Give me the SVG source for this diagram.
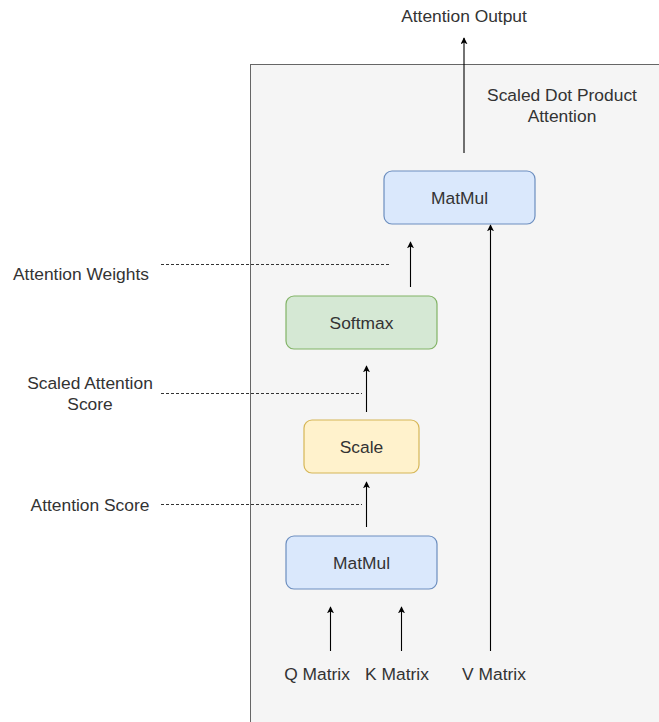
<svg xmlns="http://www.w3.org/2000/svg" width="659" height="722" viewBox="0 0 659 722">
<style>
text{font-family:"Liberation Sans",Arial,sans-serif;font-size:17.4px;fill:#333;text-anchor:middle}
.node rect{stroke-width:1.2}
.blue{fill:#dae8fc;stroke:#6c8ebf}
.green{fill:#d5e8d4;stroke:#82b366}
.yellow{fill:#fff2cc;stroke:#d6b656}
.arr{stroke:#000;stroke-width:1.1;fill:none;marker-end:url(#ah)}
.dash{stroke:#333;stroke-width:1;stroke-dasharray:3 2;fill:none}
</style>
<defs>
<marker id="ah" viewBox="0 0 10 10" refX="9" refY="5" markerWidth="7" markerHeight="7" orient="auto" markerUnits="userSpaceOnUse">
<path d="M0,0 L10,5 L0,10 L2.5,5 Z" fill="#000"/>
</marker>
</defs>
<g id="container">
<rect x="250.5" y="64.5" width="420" height="670" fill="#f5f5f5" stroke="#666"/>
<text x="562" y="101">Scaled Dot Product</text>
<text x="562" y="122">Attention</text>
</g>
<g id="connectors">
<line class="arr" x1="464" y1="153" x2="464" y2="38"/>
<line class="arr" x1="410.5" y1="287" x2="410.5" y2="242"/>
<line class="arr" x1="366.5" y1="412" x2="366.5" y2="366"/>
<line class="arr" x1="366.5" y1="527" x2="366.5" y2="482"/>
<line class="arr" x1="330.5" y1="651" x2="330.5" y2="607"/>
<line class="arr" x1="401.5" y1="651" x2="401.5" y2="607"/>
<line class="arr" x1="490.5" y1="651" x2="490.5" y2="225"/>
<line class="dash" x1="161" y1="264.5" x2="389" y2="264.5"/>
<line class="dash" x1="161" y1="393.5" x2="362" y2="393.5"/>
<line class="dash" x1="161" y1="504.5" x2="362" y2="504.5"/>
</g>
<g id="matmul-top" class="node"><rect class="blue" x="384" y="171" width="151" height="53" rx="8"/><text x="459.5" y="204">MatMul</text></g>
<g id="softmax" class="node"><rect class="green" x="286" y="296" width="151" height="53" rx="8"/><text x="361.5" y="329">Softmax</text></g>
<g id="scale" class="node"><rect class="yellow" x="304" y="420" width="115" height="53" rx="8"/><text x="361.5" y="453">Scale</text></g>
<g id="matmul-bottom" class="node"><rect class="blue" x="286" y="536" width="151" height="53" rx="8"/><text x="361.5" y="569">MatMul</text></g>
<g id="labels">
<text x="464" y="22">Attention Output</text>
<text x="81" y="280">Attention Weights</text>
<text x="90" y="389">Scaled Attention</text>
<text x="90" y="410">Score</text>
<text x="90" y="511">Attention Score</text>
<text x="317" y="680">Q Matrix</text>
<text x="397" y="680">K Matrix</text>
<text x="494" y="680">V Matrix</text>
</g>
</svg>
